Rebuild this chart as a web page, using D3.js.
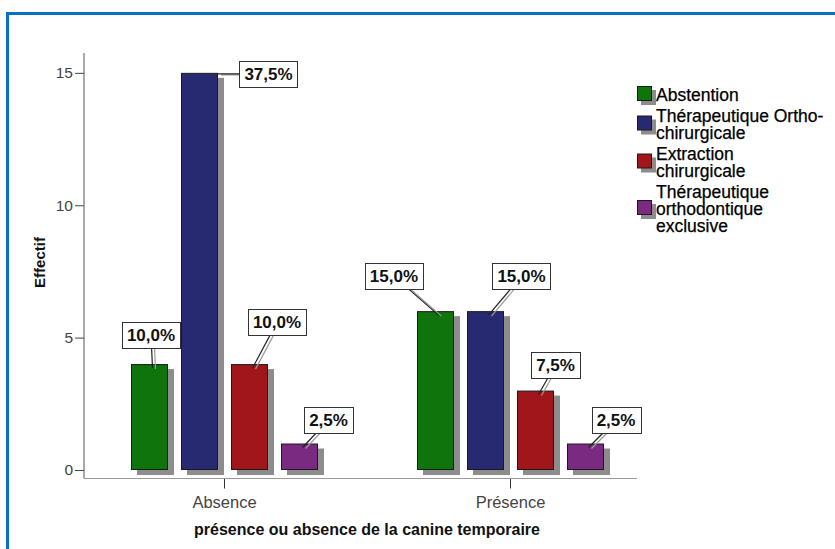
<!DOCTYPE html>
<html><head><meta charset="utf-8">
<script src="https://cdn.jsdelivr.net/npm/d3@7"></script>
<style>body{margin:0;background:#fff} svg{display:block;font-family:"Liberation Sans",Arial,sans-serif}</style>
</head><body><svg id="c" width="835" height="549"></svg>
<script>
const groups = ["Absence", "Présence"];
const series = ["Abstention", "Thérapeutique Ortho-chirurgicale", "Extraction chirurgicale", "Thérapeutique orthodontique exclusive"];
const legendLines = [["Abstention"], ["Thérapeutique Ortho-", "chirurgicale"], ["Extraction", "chirurgicale"], ["Thérapeutique", "orthodontique", "exclusive"]];
const absenceValues = [4, 15, 4, 1];
const presenceValues = [6, 6, 3, 1];
const yTicks = [0, 5, 10, 15];
const colors = ["#0e740b", "#272a71", "#a1161b", "#7b2a81"];
const xTitle = "présence ou absence de la canine temporaire";
const yTitle = "Effectif";
// label box nudges relative to bar top-centre (layout only)
const labelOffsets = [[[1.5, -29], [69, 1], [27.5, -42], [29, -23.5]], [[-41.6, -35], [36, -35], [20, -26], [30.5, -23.5]]];

const valuesByGroup = [absenceValues, presenceValues];
const total = d3.sum(valuesByGroup.flat());
const rows = [];
groups.forEach((g, gi) => series.forEach((s, si) => rows.push({g, gi, s, si, v: valuesByGroup[gi][si]})));

const svg = d3.select("#c");
// frame
svg.append("rect").attr("x", 7.5).attr("y", 13.5).attr("width", 900).attr("height", 600)
  .attr("fill", "none").attr("stroke", "#0a72c2").attr("stroke-width", 3);

const y = d3.scaleLinear().domain([0, 15.75]).range([470, 53]);
const x = d3.scaleBand().domain(groups).range([81.5, 653.5]);
const xs = d3.scaleBand().domain(series).range([-93.5, 93.5]).paddingInner(0.26).paddingOuter(0);

// y axis
const ya = svg.append("g").attr("transform", "translate(84,0)")
  .call(d3.axisLeft(y).tickValues(yTicks).tickSize(9).tickPadding(2));
ya.select(".domain").remove();
ya.selectAll(".tick line").attr("stroke", "#444");
ya.selectAll(".tick text").attr("font-size", 15.5).attr("fill", "#444").attr("font-family", "Liberation Sans, Arial, sans-serif");
svg.append("line").attr("x1", 84).attr("x2", 84).attr("y1", 53).attr("y2", 478.5).attr("stroke", "#555");

// x axis
const xa = svg.append("g").attr("transform", "translate(0,478.5)")
  .call(d3.axisBottom(x).tickSize(10).tickPadding(8));
xa.select(".domain").remove();
xa.selectAll(".tick line").attr("stroke", "#333");
xa.selectAll(".tick text").attr("font-size", 16.5).attr("fill", "#444").attr("font-family", "Liberation Sans, Arial, sans-serif");
svg.append("line").attr("x1", 84).attr("x2", 637).attr("y1", 478.5).attr("y2", 478.5).attr("stroke", "#999");

// titles
svg.append("text").attr("transform", "translate(45,262.5) rotate(-90)").attr("text-anchor", "middle")
  .attr("font-size", 15).attr("font-weight", "bold").attr("fill", "#111").text(yTitle);
svg.append("text").attr("x", 367).attr("y", 535).attr("text-anchor", "middle")
  .attr("font-size", 16).attr("font-weight", "bold").attr("fill", "#111").text(xTitle);

const bx = d => x(d.g) + x.bandwidth() / 2 + xs(d.s);
const bw = xs.bandwidth();

// shadows
svg.append("g").selectAll("rect").data(rows).join("rect")
  .attr("x", d => bx(d) + 6).attr("y", d => y(d.v) + 5)
  .attr("width", bw).attr("height", d => y(0) - y(d.v)).attr("fill", "#8c8c8c");
// bars
svg.append("g").selectAll("rect").data(rows).join("rect")
  .attr("x", d => bx(d) + 0.5).attr("y", d => y(d.v) + 0.5)
  .attr("width", bw - 1).attr("height", d => y(0) - y(d.v) - 1)
  .attr("fill", d => colors[d.si]).attr("stroke", "#1a1a1a").attr("stroke-width", 1);

// labels
const fmt = v => d3.format(".1f")(v / total * 100).replace(".", ",") + "%";
const lg = svg.append("g");
rows.forEach(d => {
  const off = labelOffsets[d.gi][d.si];
  const cx = bx(d) + bw / 2, top = y(d.v);
  const lx = cx + off[0], ly = top + off[1];
  let ax, ay;
  if (Math.abs(off[1]) < 10) { ax = bx(d) + bw; ay = top + 1; }
  else { ax = cx + 3; ay = top + 4; }
  lg.append("line").attr("x1", ax + 3).attr("y1", ay + 1).attr("x2", lx + 3).attr("y2", ly + 1)
    .attr("stroke", "#9a9a9a").attr("stroke-width", 1.2);
  lg.append("line").attr("x1", ax).attr("y1", ay).attr("x2", lx).attr("y2", ly)
    .attr("stroke", "#222").attr("stroke-width", 1.2);
  const t = lg.append("text").attr("x", lx).attr("y", ly + 6).attr("text-anchor", "middle")
    .attr("font-size", 17).attr("font-weight", "bold").attr("fill", "#111").text(fmt(d.v));
  const w = t.node().getComputedTextLength() + 10;
  lg.insert("rect", () => t.node()).attr("x", Math.round(lx - w / 2) + 0.5).attr("y", Math.round(ly - 13) + 0.5)
    .attr("width", Math.round(w)).attr("height", 26).attr("fill", "#fff").attr("stroke", "#333");
});

// legend
const leg = svg.append("g");
let base = 101;
legendLines.forEach((lines, i) => {
  const cy = base - 7.5 + (lines.length - 1) * 8.5;
  leg.append("rect").attr("x", 641).attr("y", cy - 7.5 + 4).attr("width", 15).attr("height", 15).attr("fill", "#8c8c8c");
  leg.append("rect").attr("x", 637.5).attr("y", cy - 7.5 + 0.5).attr("width", 14).attr("height", 14)
    .attr("fill", colors[i]).attr("stroke", "#1a1a1a");
  lines.forEach((ln, j) => {
    leg.append("text").attr("x", 656).attr("y", base + j * 17).attr("font-size", 17.5)
      .attr("fill", "#000").attr("stroke", "#000").attr("stroke-width", 0.25).text(ln);
  });
  base += lines.length * 17 + 4;
});
</script></body></html>
